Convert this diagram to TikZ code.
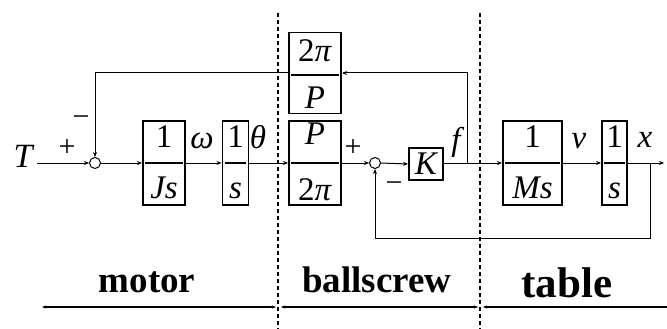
\documentclass[tikz,border=0pt]{standalone}
\usepackage{fontspec}
\setmainfont{Liberation Serif}
\usetikzlibrary{arrows.meta}
\begin{document}
\begin{tikzpicture}[x=1pt,y=-1pt,
  every node/.style={font=\fontsize{33}{35}\selectfont},
  blk/.style={draw,line width=1.9pt,inner sep=0pt,minimum width=#1,minimum height=84pt},
  txt/.style={anchor=base,inner sep=0pt},
  it/.style={anchor=base,inner sep=0pt,font=\fontsize{33}{35}\selectfont\itshape},
  sgn/.style={inner sep=0pt,font=\fontsize{30}{32}\selectfont},
  frac/.style={line width=1.2pt},
  wire/.style={line width=1pt},
  sig/.style={line width=1pt,-{Stealth[length=5pt,width=4pt]}},
  sumj/.style={draw,circle,line width=1pt,minimum size=11pt,inner sep=0pt},
  sep/.style={line width=1.4pt,dash pattern=on 4pt off 3pt},
  lbl/.style={anchor=base,inner sep=0pt,font=\fontsize{37}{39}\selectfont\bfseries},
  span/.style={line width=1.5pt}]
\useasboundingbox (0,0) rectangle (667,329);

% separators
\coordinate (s1t) at (278,13); \coordinate (s1b) at (278,329);
\coordinate (s2t) at (480,13); \coordinate (s2b) at (480,329);
\draw[sep] (s1t) -- (s1b);
\draw[sep] (s2t) -- (s2b);

% input
\node[it,font=\fontsize{34}{36}\selectfont\itshape] (T) at (23,167) {T};
\coordinate (Tin) at (37,163);
\node[sumj] (sum1) at (95,163) {};
\node[sgn] (p1) at (67,148) {+};
\node[sgn] (m1) at (81,121) {−};

% blocks
\node[blk=42pt] (b1) at (164,163) {};
\node[txt] (b1n) at (164,147) {1};
\node[it] (b1d) at (164,198) {Js};
\draw[frac] ([xshift=3pt]b1.west) -- ([xshift=-3pt]b1.east);

\node[blk=26pt] (b2) at (235.5,163) {};
\node[txt] (b2n) at (235.5,147) {1};
\node[it] (b2d) at (235.5,198) {s};
\draw[frac] ([xshift=3pt]b2.west) -- ([xshift=-3pt]b2.east);

\node[blk=52pt] (b3) at (315,163) {};
\node[it] (b3n) at (315,144) {P};
\node[txt] (b3d) at (315,200) {2\textit{π}};
\draw[frac] ([xshift=3pt]b3.west) -- ([xshift=-3pt]b3.east);

\node[blk=52pt,minimum height=81pt] (b4) at (315,73) {};
\node[txt] (b4n) at (315,62) {2\textit{π}};
\node[it] (b4d) at (315,109) {P};
\draw[frac] ([xshift=3pt,yshift=-2pt]b4.west) -- ([xshift=-3pt,yshift=-2pt]b4.east);

\node[sumj] (sum2) at (375,163) {};
\node[sgn] (p2) at (353,148) {+};
\node[sgn] (m2) at (394,187) {−};

\node[draw,line width=1.9pt,minimum width=34pt,minimum height=32pt,inner sep=0pt,font=\fontsize{33}{35}\selectfont\itshape] (K) at (426,164) {K};
\coordinate (bf) at (467,163);

\node[blk=59pt] (b5) at (532.5,163) {};
\node[txt] (b5n) at (532.5,147) {1};
\node[it] (b5d) at (532.5,198) {Ms};
\draw[frac] ([xshift=3pt]b5.west) -- ([xshift=-3pt]b5.east);

\node[blk=25pt] (b6) at (614.5,163) {};
\node[txt] (b6n) at (614.5,147) {1};
\node[it] (b6d) at (614.5,198) {s};
\draw[frac] ([xshift=3pt]b6.west) -- ([xshift=-3pt]b6.east);

\coordinate (bx) at (650,163);
\coordinate (out) at (664,163);

% signal labels
\node[it] (lw) at (202,148) {ω};
\node[it] (lth) at (258,148) {θ};
\node[it] (lf) at (456,150) {f};
\node[it] (lv) at (579,148) {ν};
\node[it] (lx) at (645,147) {x};

% connectors
\draw[sig] (Tin) -- (sum1.west);
\draw[sig] (sum1.east) -- (b1.west);
\draw[sig] (b1.east) -- (b2.west);
\draw[sig] (b2.east) -- (b3.west);
\draw[sig] (b3.east) -- (sum2.west);
\draw[sig] (sum2.east) -- (K.west);
\draw[wire] (K.east |- bf) -- (bf);
\draw[sig] (bf) -- (b5.west);
\draw[sig] (bf) |- (b4.east);
\draw[sig] (b4.west) -| (sum1.north);
\draw[sig] (b5.east) -- (b6.west);
\draw[wire] (b6.east) -- (bx);
\draw[sig] (bx) -- (out);
\coordinate (fb) at (650,238);
\draw[sig] (bx) -- (fb) -| (sum2.south);

% bottom labels
\node[lbl] (motor) at (147,292) {motor};
\node[lbl] (ball) at (377,292) {ballscrew};
\node[lbl,font=\fontsize{43}{45}\selectfont\bfseries] (table) at (567,297) {table};

\coordinate (a1) at (42,307); \coordinate (a2) at (276,307);
\coordinate (a3) at (281,307); \coordinate (a4) at (478,307);
\coordinate (a5) at (483,307); \coordinate (a6) at (667,307);
\draw[span,{Stealth[length=4pt,width=3pt]}-{Stealth[length=4pt,width=3pt]}] (a1) -- (a2);
\draw[span,{Stealth[length=4pt,width=3pt]}-{Stealth[length=4pt,width=3pt]}] (a3) -- (a4);
\draw[span,{Stealth[length=4pt,width=3pt]}-] (a5) -- (a6);
\end{tikzpicture}
\end{document}
